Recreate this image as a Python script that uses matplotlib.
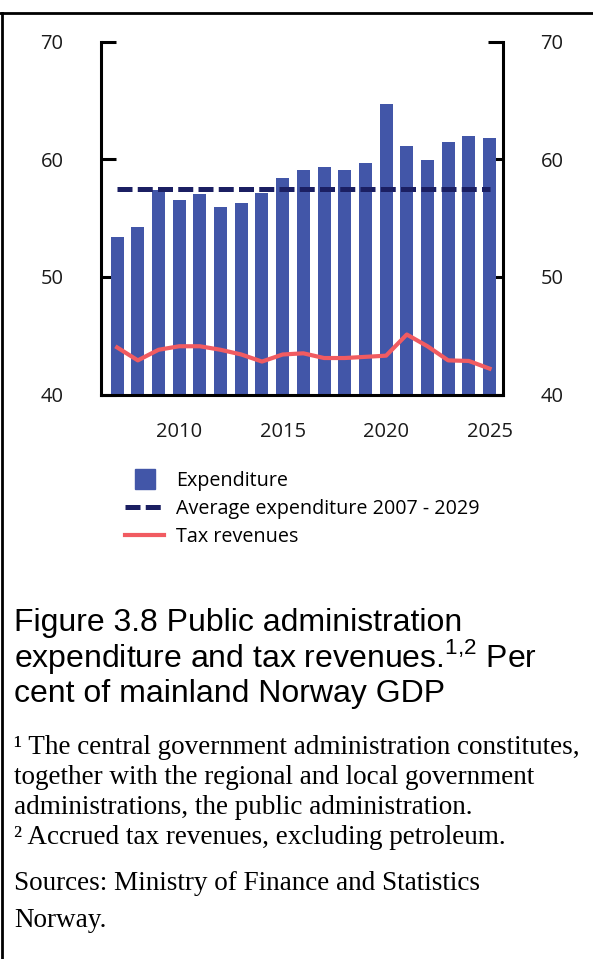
import matplotlib
matplotlib.use("Agg")
import matplotlib.pyplot as plt
from matplotlib.lines import Line2D

# Data (per cent of mainland Norway GDP)
years = list(range(2007, 2026))
expenditure = [53.4, 54.2, 57.4, 56.5, 57.0, 55.9, 56.3, 57.1, 58.4, 59.1,
               59.3, 59.1, 59.7, 64.7, 61.1, 59.9, 61.5, 62.0, 61.8]
tax_revenues = [44.0, 42.9, 43.8, 44.1, 44.1, 43.8, 43.4, 42.8, 43.4, 43.5,
                43.1, 43.1, 43.2, 43.3, 45.1, 44.1, 42.9, 42.85, 42.2]
avg_expenditure = 57.46
yticks = [40, 50, 60, 70]
xticks = [2010, 2015, 2020, 2025]

bar_color = "#4256a8"
avg_color = "#1b1f62"
tax_color = "#f15b61"

plt.rcParams["mathtext.fontset"] = "custom"
plt.rcParams["mathtext.rm"] = "Liberation Sans"

W, H = 593, 959
fig = plt.figure(figsize=(W / 100, H / 100), dpi=100)

ax = fig.add_axes([101 / W, 1 - 394.5 / H, 402 / W, 353 / H])
ax.bar(years, expenditure, width=0.63, color=bar_color, zorder=2)
ax.plot([years[0], years[-1]], [avg_expenditure, avg_expenditure],
        color=avg_color, lw=3.6, dashes=(3, 1.05), zorder=3)
ax.plot(years, tax_revenues, color=tax_color, lw=3.0, zorder=4,
        solid_joinstyle="round")

ax.set_xlim(2006.22, 2025.65)
ax.set_ylim(40, 70)
ax.set_yticks(yticks)
ax.set_xticks(xticks)

ax.tick_params(axis="y", left=True, right=True, labelleft=True, labelright=True,
               direction="in", length=11, width=2.2, pad=27, colors="black",
               labelcolor="#1a1a1a")
ax.tick_params(axis="x", length=0, pad=20, labelcolor="#1a1a1a")
for lab in ax.get_xticklabels():
    lab.set_fontfamily("Open Sans")
    lab.set_fontsize(14.5)
for t in ax.yaxis.get_major_ticks():
    for lab in (t.label1, t.label2):
        lab.set_fontfamily("Open Sans")
        lab.set_fontsize(14.5)

ax.spines["top"].set_visible(False)
for s in ["left", "right", "bottom"]:
    ax.spines[s].set_linewidth(2.2)

# Legend
handles = [
    Line2D([], [], ls="none", marker="s", markersize=14.2, color=bar_color),
    Line2D([], [], color=avg_color, lw=3.6, dashes=(3, 1.05)),
    Line2D([], [], color=tax_color, lw=3.0),
]
labels = ["Expenditure", "Average expenditure 2007 - 2029", "Tax revenues"]
fig.legend(handles, labels, loc="upper left",
           bbox_to_anchor=(125 / W, 1 - 471 / H), frameon=False,
           prop=dict(family="Open Sans", size=14.2), handlelength=2.0,
           handletextpad=0.6, labelspacing=0.4, borderpad=0,
           borderaxespad=0)

# Outer frame lines (top and left)
fig.add_artist(Line2D([0, 1], [1 - 13 / H, 1 - 13 / H], color="black", lw=2,
                      transform=fig.transFigure))
fig.add_artist(Line2D([2 / W, 2 / W], [0, 1 - 13 / H], color="black", lw=2,
                      transform=fig.transFigure))

# Caption
title_lines = ["Figure 3.8 Public administration",
               r"expenditure and tax revenues.$^{1{,}2}$ Per",
               "cent of mainland Norway GDP"]
for i, line in enumerate(title_lines):
    fig.text(14 / W, 1 - (631 + 35.5 * i) / H, line, family="Liberation Sans",
             size=23, va="baseline", ha="left", color="black")

note_lines = ["\u00b9 The central government administration constitutes,",
              "together with the regional and local government",
              "administrations, the public administration.",
              "\u00b2 Accrued tax revenues, excluding petroleum."]
for i, line in enumerate(note_lines):
    fig.text(14 / W, 1 - (754 + 30 * i) / H, line, family="Liberation Serif",
             size=19.5, va="baseline", ha="left", color="black")

source_lines = ["Sources: Ministry of Finance and Statistics", "Norway."]
for i, line in enumerate(source_lines):
    fig.text(14 / W, 1 - (890 + 37 * i) / H, line, family="Liberation Serif",
             size=19.5, va="baseline", ha="left", color="black")

fig.savefig("out.png", dpi=100)
